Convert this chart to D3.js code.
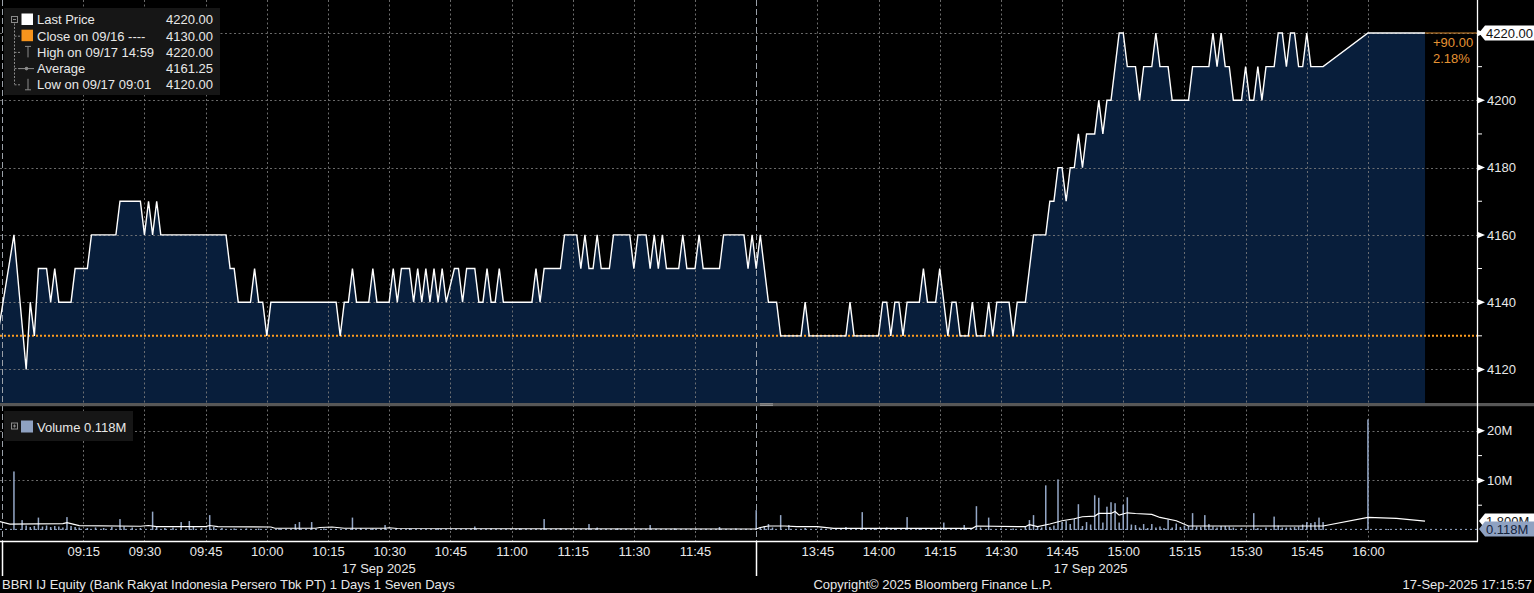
<!DOCTYPE html>
<html><head><meta charset="utf-8">
<script src="https://cdn.jsdelivr.net/npm/d3@7"></script>
<style>
html,body{margin:0;padding:0;background:#000;overflow:hidden}
svg{display:block}
text{font-family:"Liberation Sans",Arial,sans-serif;font-size:13px;fill:#e8e8e8}
</style></head><body>
<svg id="c" width="1534" height="593"></svg>
<script>
// ---------------- DATA ----------------
const priceTimes = [
"08:54","08:58","09:01","09:02","09:03","09:04","09:06","09:07","09:08","09:09",
"09:12","09:13","09:16","09:17","09:23","09:24","09:29","09:30","09:31","09:32",
"09:33","09:34","09:50","09:51","09:52","09:53","09:56","09:57","09:58","09:59",
"10:00","10:01","10:17","10:18","10:19","10:20","10:21","10:22","10:25","10:26",
"10:27","10:30","10:31","10:32","10:33","10:35","10:36","10:37","10:38","10:39",
"10:40","10:41","10:42","10:43","10:44","10:46","10:47","10:48","10:49","10:51",
"10:52","10:53","10:54","10:55","10:56","10:57","10:58","11:05","11:06","11:07",
"11:08","11:12","11:13","11:16","11:17","11:18","11:19","11:20","11:21","11:22",
"11:24","11:25","11:29","11:30","11:31","11:33","11:34","11:35","11:36","11:37",
"11:38","11:41","11:42","11:43","11:45","11:46","11:47","11:51","11:52","11:57",
"11:58","11:59","12:00","13:31","13:33","13:35","13:36","13:41","13:42","13:43",
"13:52","13:53","13:54","14:00","14:01","14:02","14:03","14:04","14:05","14:06",
"14:07","14:10","14:11","14:12","14:14","14:15","14:16","14:17","14:18","14:19",
"14:20","14:22","14:23","14:24","14:26","14:27","14:28","14:29","14:32","14:33",
"14:34","14:36","14:37","14:38","14:41","14:42","14:43","14:44","14:45","14:46",
"14:47","14:48","14:49","14:50","14:51","14:53","14:54","14:55","14:56","14:57",
"14:58","14:59","15:00","15:01","15:03","15:04","15:05","15:07","15:08","15:09",
"15:11","15:12","15:16","15:17","15:21","15:22","15:23","15:24","15:25","15:26",
"15:27","15:29","15:30","15:31","15:32","15:33","15:34","15:35","15:37","15:38",
"15:39","15:40","15:41","15:42","15:43","15:44","15:45","15:46","15:49","16:00",
"16:14"];
const priceValues = [
4130,4160,4120,4140,4130,4150,4150,4140,4150,4140,
4140,4150,4150,4160,4160,4170,4170,4160,4170,4160,
4170,4160,4160,4150,4150,4140,4140,4150,4140,4140,
4130,4140,4140,4130,4140,4140,4150,4140,4140,4150,
4140,4140,4150,4140,4150,4150,4140,4150,4140,4150,
4140,4150,4140,4150,4140,4150,4150,4140,4150,4150,
4140,4140,4150,4140,4140,4150,4140,4140,4150,4140,
4150,4150,4160,4160,4150,4160,4150,4150,4160,4150,
4150,4160,4160,4150,4160,4160,4150,4160,4150,4160,
4150,4150,4160,4150,4150,4160,4150,4150,4160,4160,
4150,4160,4150,4160,4140,4140,4130,4130,4140,4130,
4130,4140,4130,4130,4140,4140,4130,4140,4140,4130,
4140,4140,4150,4140,4140,4150,4140,4130,4140,4140,
4130,4130,4140,4130,4130,4140,4130,4140,4140,4130,
4140,4140,4150,4160,4160,4170,4170,4180,4180,4170,
4180,4180,4190,4180,4190,4190,4200,4190,4200,4200,
4210,4220,4220,4210,4210,4200,4210,4210,4220,4210,
4210,4200,4200,4210,4210,4220,4210,4220,4210,4210,
4200,4200,4210,4200,4200,4210,4200,4210,4210,4220,
4220,4210,4220,4220,4210,4210,4220,4210,4210,4220,
4220];

const volTimes = [
"08:58","09:00","09:01","09:02","09:03","09:04","09:05","09:06","09:07","09:08",
"09:09","09:10","09:11","09:12","09:13","09:14","09:16","09:18","09:20","09:22",
"09:24","09:25","09:27","09:29","09:32","09:33","09:35","09:37","09:39","09:41",
"09:42","09:44","09:46","09:47","09:49","09:52","09:55","09:58","10:03","10:07",
"10:08","10:11","10:14","10:21","10:23","10:26","10:29","10:35","10:42","10:51",
"10:55","11:02","11:08","11:12","11:19","11:21","11:26","11:34","11:40","11:51",
"11:55","13:30","13:31","13:32","13:33","13:34","13:36","13:38","13:42","13:46",
"13:52","13:56","13:59","14:02","14:04","14:07","14:10","14:13","14:16","14:19",
"14:21","14:24","14:25","14:27","14:30","14:33","14:36","14:37","14:38","14:39",
"14:40","14:41","14:42","14:43","14:44","14:45","14:46","14:47","14:48","14:49",
"14:50","14:51","14:52","14:53","14:54","14:55","14:56","14:57","14:58","14:59",
"15:00","15:01","15:02","15:03","15:04","15:05","15:06","15:07","15:08","15:09",
"15:10","15:11","15:12","15:13","15:14","15:15","15:16","15:17","15:18","15:19",
"15:20","15:21","15:22","15:23","15:24","15:25","15:26","15:27","15:29","15:32",
"15:33","15:35","15:37","15:38","15:39","15:40","15:41","15:42","15:43","15:44",
"15:45","15:46","15:47","15:48","15:49","16:00","16:03","16:05","16:08","16:10"];
const volValues = [ // millions of shares
11.8,2.0,0.9,0.6,0.8,2.5,0.7,0.9,0.6,0.8,
0.7,0.5,2.6,0.8,0.6,0.5,0.4,0.5,0.4,0.6,
2.2,0.7,0.5,0.4,3.7,0.6,0.4,0.5,1.6,1.8,
0.6,0.4,3.0,0.6,0.4,0.3,0.3,0.3,0.3,1.2,
1.6,1.6,0.3,2.5,0.4,0.3,1.0,0.3,0.3,0.7,
0.3,0.3,2.2,0.3,1.2,0.5,0.3,1.0,0.3,0.6,
0.3,4.0,0.6,0.7,1.2,0.5,3.0,1.0,0.4,0.3,
0.6,3.6,0.4,0.5,0.4,2.6,0.4,0.3,1.5,0.4,
1.0,4.8,0.5,2.5,0.3,0.3,0.8,2.0,3.0,0.6,
0.5,9.0,0.6,0.9,10.2,1.6,1.8,1.2,2.3,5.2,
0.8,1.6,1.1,7.0,6.5,1.5,4.7,5.6,5.4,1.5,
5.1,6.6,1.1,1.0,0.5,1.2,0.4,1.2,0.5,0.7,
0.4,2.1,0.5,1.3,0.6,0.9,0.8,3.4,0.7,0.6,
3.0,1.2,0.7,0.5,0.8,0.8,0.7,0.5,0.4,3.4,
0.4,0.5,2.7,0.9,0.5,0.5,0.5,0.6,0.7,1.1,
1.6,1.4,1.6,2.5,1.6,22.3,0.2,0.2,0.3,0.2];

const avgVolTimes = [
"08:54","08:57","09:10","09:11","09:14","09:29","09:31","09:33","09:45","09:46",
"09:48","10:01","10:02","10:12","10:13","10:16","10:19","10:29","10:30","10:32",
"11:00","12:00","13:31","13:33","13:37","13:40","13:45","13:49","14:23","14:24",
"14:36","14:37","14:39","14:42","14:45","14:48","14:50","14:53","14:54","14:57",
"14:58","14:59","15:01","15:03","15:07","15:09","15:13","15:16","15:49","16:00",
"16:07","16:14"];
const avgVolValues = [
1.8,1.2,1.3,1.5,0.9,0.75,0.9,0.67,0.67,0.9,
0.67,0.6,0.35,0.35,0.5,0.6,0.35,0.35,0.45,0.3,
0.25,0.2,0.5,0.8,0.8,0.67,0.67,0.33,0.33,0.8,
0.67,1.07,0.67,1.2,1.87,2.27,2.67,2.8,3.33,3.33,
3.73,3.0,3.47,3.33,3.13,2.53,1.87,0.8,0.8,2.53,
2.33,1.8];

const timeTicks = ["09:15","09:30","09:45","10:00","10:15","10:30","10:45","11:00","11:15","11:30","11:45",
                   "13:45","14:00","14:15","14:30","14:45","15:00","15:15","15:30","15:45","16:00"];
const sessionStarts = ["08:55","13:30"];
const sessionEnds = ["12:00","16:14"];
const sessionDateLabels = ["17 Sep 2025","17 Sep 2025"];
const priceTicks = [4120,4140,4160,4180,4200];
const priceGrid = [4120,4140,4160,4180,4200,4220];
const priceMinor = [4130,4150,4170,4190,4210];
const volTicks = [10,20];
const volMinor = [5,15];
const prevClose = 4130;
const lastPrice = 4220;
const lastVolume = 0.118;
const legendLabels = ["Last Price","Close on 09/16 ----","High on 09/17 14:59","Average","Low on 09/17 09:01"];
const legendValues = ["4220.00","4130.00","4220.00","4161.25","4120.00"];
const changeLabels = ["+90.00","2.18%"];
const footerLeft = "BBRI IJ Equity (Bank Rakyat Indonesia Persero Tbk PT) 1 Days 1 Seven Days";
const footerMid = "Copyright\u00A9 2025 Bloomberg Finance L.P.";
const footerRight = "17-Sep-2025 17:15:57";

// ---------------- LAYOUT ----------------
const axisX = 1477, priceBottom = 403, volTop = 406, volBottom = 541;
const svg = d3.select("#c");
svg.append("rect").attr("width",1534).attr("height",593).attr("fill","#000");

// trading-minute index (lunch break removed)
function tm(s){ const [h,m] = s.split(":").map(Number); let v = h*60+m-540; if(v>=270) v-=90; return v; }

const x = d3.scaleLinear().domain([-5.42, 356.74]).range([0, axisX]);
const yP = d3.scaleLinear().domain([4110.04, 4229.81]).range([priceBottom, 0]);
const yV = d3.scaleLinear().domain([-2.22, 25]).range([volBottom, volTop]);

const defs = svg.append("defs");
defs.append("clipPath").attr("id","cp").append("rect").attr("x",0).attr("y",0).attr("width",axisX).attr("height",priceBottom);
defs.append("clipPath").attr("id","cv").append("rect").attr("x",0).attr("y",volTop).attr("width",axisX).attr("height",volBottom-volTop);

const pts = priceTimes.map((t,i)=>({m:tm(t), v:priceValues[i]}));

// price area
svg.append("path").datum(pts).attr("clip-path","url(#cp)")
  .attr("fill","#081e3b")
  .attr("d", d3.area().x(d=>x(d.m)).y0(yP.range()[0]).y1(d=>yP(d.v)));

// grid
const grid = svg.append("g").attr("stroke","#7d7d7d").attr("stroke-width",1).attr("stroke-dasharray","2,2.5").attr("opacity",0.85);
priceGrid.forEach(v=>grid.append("line").attr("x1",0).attr("x2",axisX).attr("y1",Math.round(yP(v))+0.5).attr("y2",Math.round(yP(v))+0.5));
volTicks.forEach(v=>grid.append("line").attr("x1",0).attr("x2",axisX).attr("y1",Math.round(yV(v))+0.5).attr("y2",Math.round(yV(v))+0.5));
timeTicks.forEach(t=>grid.append("line").attr("x1",Math.round(x(tm(t)))+0.5).attr("x2",Math.round(x(tm(t)))+0.5).attr("y1",0).attr("y2",volBottom));
// session boundaries
sessionStarts.forEach(t=>{
  const sx = Math.round(x(tm(t)))+0.5;
  svg.append("line").attr("x1",sx).attr("x2",sx).attr("y1",0).attr("y2",volBottom)
    .attr("stroke","#9aa0a8").attr("stroke-dasharray","6,3").attr("stroke-width",1);
  svg.append("line").attr("x1",sx).attr("x2",sx).attr("y1",volBottom).attr("y2",576)
    .attr("stroke","#fff").attr("stroke-width",1.5);
});

// previous close line
svg.append("line").attr("x1",0).attr("x2",axisX).attr("y1",yP(prevClose)).attr("y2",yP(prevClose))
  .attr("stroke","#ff9d1e").attr("stroke-width",2).attr("stroke-dasharray","2,2");

// price line
svg.append("path").datum(pts).attr("clip-path","url(#cp)")
  .attr("fill","none").attr("stroke","#fff").attr("stroke-width",1.4).attr("stroke-linejoin","miter")
  .attr("d", d3.line().x(d=>x(d.m)).y(d=>yP(d.v)));
// last price extension
const lastX = x(tm(priceTimes[priceTimes.length-1]));
svg.append("line").attr("x1",lastX).attr("x2",axisX).attr("y1",yP(lastPrice)).attr("y2",yP(lastPrice))
  .attr("stroke","#d98a2e").attr("stroke-width",1);

// change labels
changeLabels.forEach((s,i)=>svg.append("text").attr("x",1433).attr("y",46.5+i*16.5).style("fill","#e69433").text(s));

// divider
svg.append("rect").attr("x",0).attr("y",priceBottom).attr("width",1534).attr("height",3.2).attr("fill","#575757");
svg.append("line").attr("x1",760).attr("x2",773).attr("y1",403.8).attr("y2",403.8).attr("stroke","#aaa").attr("stroke-width",0.8);
svg.append("line").attr("x1",760).attr("x2",773).attr("y1",405.4).attr("y2",405.4).attr("stroke","#aaa").attr("stroke-width",0.8);

// volume bars
const vg = svg.append("g").attr("clip-path","url(#cv)");
vg.selectAll("rect").data(volTimes.map((t,i)=>({m:tm(t), v:volValues[i]}))).join("rect")
  .attr("x",d=>x(d.m)-0.75).attr("width",1.5)
  .attr("y",d=>yV(d.v)).attr("height",d=>yV(0)-yV(d.v))
  .attr("fill","#94a7c6");
// last volume dotted line
vg.append("line").attr("x1",0).attr("x2",axisX).attr("y1",yV(lastVolume)).attr("y2",yV(lastVolume))
  .attr("stroke","#94a7c6").attr("stroke-dasharray","2,3").attr("stroke-width",1);
// average volume line
vg.append("path").datum(avgVolTimes.map((t,i)=>({m:tm(t), v:avgVolValues[i]})))
  .attr("fill","none").attr("stroke","#fff").attr("stroke-width",1.2)
  .attr("d", d3.line().x(d=>x(d.m)).y(d=>yV(d.v)));

// axes frame
svg.append("line").attr("x1",axisX+0.5).attr("x2",axisX+0.5).attr("y1",0).attr("y2",volBottom+0.5).attr("stroke","#fff").attr("stroke-width",1.3);
svg.append("line").attr("x1",0).attr("x2",axisX+1).attr("y1",volBottom+0.5).attr("y2",volBottom+0.5).attr("stroke","#fff").attr("stroke-width",1.3);

// right axes
function tri(g, yy){ g.append("path").attr("d",`M${axisX+1},${yy-3}L${axisX+8},${yy}L${axisX+1},${yy+3}Z`).attr("fill","#fff"); }
function minor(g, yy){ g.append("line").attr("x1",axisX).attr("x2",axisX+5).attr("y1",yy).attr("y2",yy).attr("stroke","#fff").attr("stroke-width",1); }
const ra = svg.append("g");
priceTicks.concat([lastPrice]).forEach(v=>tri(ra, yP(v)));
priceMinor.forEach(v=>minor(ra, yP(v)));
volTicks.forEach(v=>tri(ra, yV(v)));
volMinor.forEach(v=>minor(ra, yV(v)));

const pAxis = svg.append("g").attr("transform",`translate(${axisX},0)`)
  .call(d3.axisRight(yP).tickValues(priceTicks).tickSize(0).tickPadding(10).tickFormat(d3.format("d")));
const vAxis = svg.append("g").attr("transform",`translate(${axisX},0)`)
  .call(d3.axisRight(yV).tickValues(volTicks).tickSize(0).tickPadding(10).tickFormat(d=>d+"M"));
[pAxis,vAxis].forEach(a=>{ a.select(".domain").remove(); a.selectAll("text").attr("font-family",null).attr("font-size",null).style("fill","#e8e8e8"); });

// last price label
const ly = yP(lastPrice);
svg.append("path").attr("d",`M${axisX+2},${ly}L${axisX+8},${ly-7.5}L1534,${ly-7.5}L1534,${ly+7.5}L${axisX+8},${ly+7.5}Z`).attr("fill","#fff");
svg.append("text").attr("x",1486).attr("y",ly+4.6).style("fill","#111").text(lastPrice.toFixed(2));

// average volume label (mostly hidden) + last volume label
const ay = yV(avgVolValues[avgVolValues.length-1]);
svg.append("path").attr("d",`M${axisX+2},${ay}L${axisX+8},${ay-7.5}L1534,${ay-7.5}L1534,${ay+7.5}L${axisX+8},${ay+7.5}Z`).attr("fill","#fff");
svg.append("text").attr("x",1486).attr("y",ay+4.6).style("fill","#111").text(avgVolValues[avgVolValues.length-1].toFixed(3)+"M");
const vy = yV(lastVolume)-0.5;
svg.append("path").attr("d",`M${axisX+2},${vy}L${axisX+8},${vy-7.5}L1534,${vy-7.5}L1534,${vy+7.5}L${axisX+8},${vy+7.5}Z`).attr("fill","#8fa2c2");
svg.append("text").attr("x",1486).attr("y",vy+4.6).style("fill","#15243d").text(lastVolume.toFixed(3)+"M");

// time axis labels
const tAxis = svg.append("g").attr("transform",`translate(0,${volBottom})`)
  .call(d3.axisBottom(x).tickValues(timeTicks.map(tm)).tickFormat((d,i)=>timeTicks[i]).tickSize(0).tickPadding(6));
tAxis.select(".domain").remove();
tAxis.selectAll("text").attr("font-family",null).attr("font-size",null).style("fill","#e8e8e8");
sessionStarts.forEach((s,i)=>{
  const cx = (x(tm(s)) + x(tm(sessionEnds[i])))/2;
  svg.append("text").attr("x",cx).attr("y",572.5).attr("text-anchor","middle").text(sessionDateLabels[i]);
});

// footer
svg.append("text").attr("x",2).attr("y",589).text(footerLeft);
svg.append("text").attr("x",933).attr("y",589).attr("text-anchor","middle").text(footerMid);
svg.append("text").attr("x",1532).attr("y",589).attr("text-anchor","end").text(footerRight);

// price legend
const lg = svg.append("g");
lg.append("rect").attr("x",4).attr("y",8).attr("width",216).attr("height",87).attr("fill","#161616");
const rowY = i => 19.5 + i*16.2;
const gray = "#8a8a8a";
// tree
lg.append("rect").attr("x",11.5).attr("y",rowY(0)-3).attr("width",6).attr("height",6).attr("fill","none").attr("stroke",gray);
lg.append("line").attr("x1",13).attr("x2",16).attr("y1",rowY(0)).attr("y2",rowY(0)).attr("stroke",gray);
lg.append("line").attr("x1",14.5).attr("x2",14.5).attr("y1",rowY(0)+4).attr("y2",rowY(4)).attr("stroke",gray).attr("stroke-dasharray","2,1.5");
[1,2,3,4].forEach(i=>lg.append("line").attr("x1",14.5).attr("x2",20).attr("y1",rowY(i)+0.5).attr("y2",rowY(i)+0.5).attr("stroke",gray).attr("stroke-dasharray","2,1.5"));
// symbols
lg.append("rect").attr("x",21.5).attr("y",rowY(0)-6).attr("width",11.5).attr("height",11.5).attr("fill","#fff");
lg.append("rect").attr("x",21.5).attr("y",rowY(1)-6).attr("width",11.5).attr("height",11.5).attr("fill","#f7941d");
const hy = rowY(2);
lg.append("path").attr("d",`M25,${hy-5.5}H31M28,${hy-5.5}V${hy+5.5}`).attr("stroke",gray).attr("fill","none");
const ay2 = rowY(3)+0.5;
lg.append("line").attr("x1",19).attr("x2",34).attr("y1",ay2).attr("y2",ay2).attr("stroke",gray);
lg.append("circle").attr("cx",26.5).attr("cy",ay2).attr("r",1.8).attr("fill",gray);
const lwy = rowY(4);
lg.append("path").attr("d",`M28,${lwy-5.5}V${lwy+5.5}M25,${lwy+5.5}H31`).attr("stroke",gray).attr("fill","none");
legendLabels.forEach((s,i)=>{
  lg.append("text").attr("x",37).attr("y",rowY(i)+4.8).text(s);
  lg.append("text").attr("x",213).attr("y",rowY(i)+4.8).attr("text-anchor","end").text(legendValues[i]);
});

// volume legend
const vl = svg.append("g");
vl.append("rect").attr("x",4).attr("y",411).attr("width",129).attr("height",30).attr("fill","#161616");
vl.append("rect").attr("x",11.5).attr("y",423).attr("width",6).attr("height",6).attr("fill","none").attr("stroke",gray);
vl.append("path").attr("d","M13,426H16M14.5,424.5V427.5").attr("stroke",gray);
vl.append("rect").attr("x",21).attr("y",420.5).attr("width",12).attr("height",12).attr("fill","#8fa2c2");
vl.append("text").attr("x",37).attr("y",431.5).text("Volume " + lastVolume.toFixed(3) + "M");
</script>
</body></html>
